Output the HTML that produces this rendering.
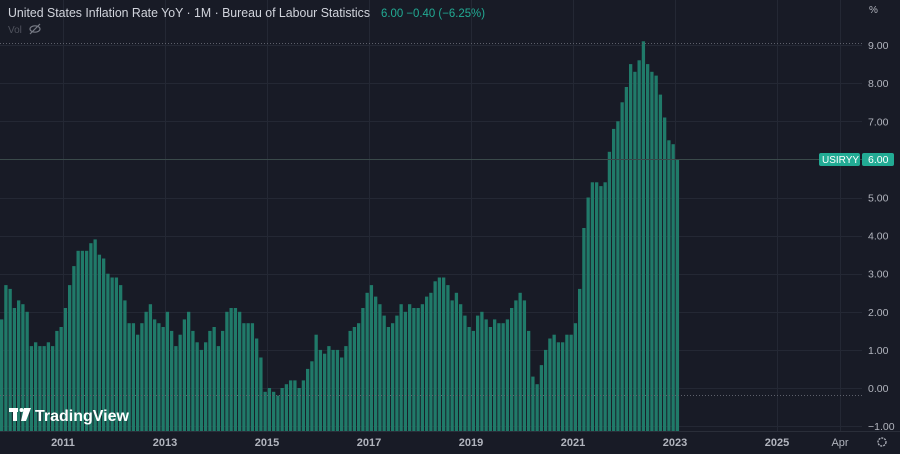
<!DOCTYPE html>
<html><head><meta charset="utf-8"><style>
html,body{margin:0;padding:0;background:#181b26;}
body{width:900px;height:454px;overflow:hidden;font-family:"Liberation Sans",sans-serif;}
svg{display:block}
</style></head><body>
<svg id="c" width="900" height="454" xmlns="http://www.w3.org/2000/svg">
<rect width="900" height="454" fill="#181b26"/>
<g id="grid" stroke="#242834" stroke-width="1"></g>
<g id="bars" fill="#207a69"></g>
<line x1="0" y1="43.5" x2="862" y2="43.5" stroke="#5d606b" stroke-dasharray="1,2"/>
<line x1="0" y1="395.5" x2="862" y2="395.5" stroke="#5d606b" stroke-dasharray="1,2"/>
<line x1="0" y1="159.5" x2="862" y2="159.5" stroke="#3a4a4a" stroke-width="1"/>
<line x1="0" y1="431.5" x2="900" y2="431.5" stroke="#2a2e39"/>
<text x="8" y="17" font-size="13" fill="#d1d4dc" textLength="362" lengthAdjust="spacingAndGlyphs">United States Inflation Rate YoY · 1M · Bureau of Labour Statistics</text>
<text x="381" y="17" font-size="11.5" fill="#22ab94" textLength="104" lengthAdjust="spacingAndGlyphs">6.00 −0.40 (−6.25%)</text>
<text x="8" y="33" font-size="10" fill="#50535e">Vol</text>
<g stroke="#787b86" fill="none" stroke-width="1.2"><ellipse cx="35" cy="29" rx="5" ry="3.2"/><line x1="30" y1="34" x2="40" y2="24"/></g>
<text x="869" y="13" font-size="10" fill="#b2b5be">%</text>
<g id="ylab" font-size="10.5" fill="#b2b5be"></g>
<rect x="819" y="153" width="41" height="13" rx="2" fill="#22ab94"/>
<text x="822" y="163" font-size="10" fill="#fff">USIRYY</text>
<rect x="862" y="153" width="32" height="13" rx="2" fill="#22ab94"/>
<text x="868" y="163" font-size="10.5" fill="#fff">6.00</text>
<g font-size="11" font-weight="bold" fill="#b2b5be" text-anchor="middle">
<text x="63" y="446">2011</text><text x="165" y="446">2013</text><text x="267" y="446">2015</text>
<text x="369" y="446">2017</text><text x="471" y="446">2019</text><text x="573" y="446">2021</text>
<text x="675" y="446">2023</text><text x="777" y="446">2025</text></g>
<text x="840" y="446" font-size="11" fill="#b2b5be" text-anchor="middle">Apr</text>
<circle cx="882" cy="442" r="4" fill="none" stroke="#b2b5be" stroke-width="1.3" stroke-dasharray="2,1"/>
<g fill="#ffffff"><rect x="9" y="408" width="9" height="4"/><rect x="13" y="408" width="4" height="13"/><circle cx="21.5" cy="410" r="2"/><polygon points="24,408 31,408 26,421 21,421"/></g>
<text x="35" y="421" font-size="16" font-weight="bold" fill="#ffffff">TradingView</text>
</svg>
<script>
var d=[1.8,2.7,2.6,2.1,2.3,2.2,2.0,1.1,1.2,1.1,1.1,1.2,1.1,1.5,
1.6,2.1,2.7,3.2,3.6,3.6,3.6,3.8,3.9,3.5,3.4,3.0,
2.9,2.9,2.7,2.3,1.7,1.7,1.4,1.7,2.0,2.2,1.8,1.7,
1.6,2.0,1.5,1.1,1.4,1.8,2.0,1.5,1.2,1.0,1.2,1.5,
1.6,1.1,1.5,2.0,2.1,2.1,2.0,1.7,1.7,1.7,1.3,0.8,
-0.1,0.0,-0.1,-0.2,0.0,0.1,0.2,0.2,0.0,0.2,0.5,0.7,
1.4,1.0,0.9,1.1,1.0,1.0,0.8,1.1,1.5,1.6,1.7,2.1,
2.5,2.7,2.4,2.2,1.9,1.6,1.7,1.9,2.2,2.0,2.2,2.1,
2.1,2.2,2.4,2.5,2.8,2.9,2.9,2.7,2.3,2.5,2.2,1.9,
1.6,1.5,1.9,2.0,1.8,1.6,1.8,1.7,1.7,1.8,2.1,2.3,
2.5,2.3,1.5,0.3,0.1,0.6,1.0,1.3,1.4,1.2,1.2,1.4,
1.4,1.7,2.6,4.2,5.0,5.4,5.4,5.3,5.4,6.2,6.8,7.0,
7.5,7.9,8.5,8.3,8.6,9.1,8.5,8.3,8.2,7.7,7.1,6.5,6.4,6.0];
var NS="http://www.w3.org/2000/svg";
function el(p,t,a){var e=document.createElementNS(NS,t);for(var k in a)e.setAttribute(k,a[k]);document.getElementById(p).appendChild(e);return e;}
function Y(v){return 388-38.1*v;}
for(var k=-1;k<=9;k++){var y=Math.round(Y(k))+0.5;el("grid","line",{x1:0,y1:y,x2:862,y2:y});
 var t=el("ylab","text",{x:868,y:Y(k)+4});t.textContent=(k<0?"−1.00":k.toFixed(2));}
for(var yr=0;yr<8;yr++){var x=63+102*yr+0.5;el("grid","line",{x1:x,y1:0,x2:x,y2:431});}
el("grid","line",{x1:840.5,y1:0,x2:840.5,y2:431});
for(var i=0;i<d.length;i++){var x=i*4.25;var y=Y(d[i]);el("bars","rect",{x:x.toFixed(2),y:y.toFixed(1),width:3.3,height:(431-y).toFixed(1)});}
</script>
</body></html>
